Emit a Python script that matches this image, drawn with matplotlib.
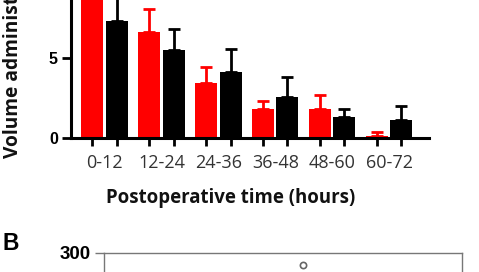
import numpy as np
import matplotlib
matplotlib.use('Agg')
import matplotlib.pyplot as plt

# data
periods = ['0-12', '12-24', '24-36', '36-48', '48-60', '60-72']
red_mean = [9.8, 6.6, 3.45, 1.8, 1.8, 0.12]
red_err = [1.8, 1.43, 0.98, 0.52, 0.88, 0.22]
black_mean = [7.3, 5.5, 4.12, 2.57, 1.27, 1.1]
black_err = [1.6, 1.32, 1.4, 1.25, 0.55, 0.87]

# panel B (only its top edge is visible)
b_x = [0.556]
b_y = [282]

W, H = 479, 272
fig = plt.figure(figsize=(W / 100, H / 100), dpi=100)

# Panel A
x0, x1 = 71, 429          # x spine in px
base = 137.7              # y=0 in px from top
ppu = 16.0                # px per unit
ymax = 15
ax = fig.add_axes([x0 / W, (H - base) / H, (x1 - x0) / W, ymax * ppu / H])

x = np.arange(len(periods))
off = 0.214
bw = 0.387
ekw = dict(capsize=4.3, capthick=2.0, elinewidth=2.0)
ax.bar(x - off, red_mean, bw, color='#ff0000',
       yerr=[np.zeros(len(x)), red_err], ecolor='#ff0000', error_kw=ekw)
ax.bar(x + off, black_mean, bw, color='black',
       yerr=[np.zeros(len(x)), black_err], ecolor='black', error_kw=ekw)

ax.set_xlim(-0.588, 5.70)
ax.set_ylim(0, ymax)
for s in ['top', 'right']:
    ax.spines[s].set_visible(False)
for s in ['left', 'bottom']:
    ax.spines[s].set_linewidth(2.2)

ax.set_yticks([0, 5])
ax.set_yticklabels(['0', '5'], fontfamily='Liberation Sans',
                   fontweight='bold', fontsize=11.5)
ax.tick_params(axis='y', length=6.5, width=2, pad=3)

ax.set_xticks(np.concatenate([x - off, x + off]))
ax.set_xticklabels([])
ax.tick_params(axis='x', which='major', length=6, width=2)
ax.set_xticks(x, periods, minor=True)
ax.tick_params(axis='x', which='minor', length=0, pad=11.5,
               labelsize=13, labelcolor='#333333')
for t in ax.get_xticklabels(minor=True):
    t.set_fontfamily('Open Sans')

fig.text(231 / W, 1 - 198 / H, 'Postoperative time (hours)',
         fontfamily='Open Sans', fontweight='bold', fontsize=13.4,
         ha='center', va='center', color='#111111')
fig.text(13 / W, 1 - 158 / H, 'Volume administered (mL/kg)',
         fontfamily='Open Sans', fontweight='bold', fontsize=13.8,
         rotation=90, ha='center', va='bottom', color='#111111')

# Panel B
fig.text(2 / W, 1 - 243 / H, 'B', fontfamily='Liberation Sans',
         fontweight='bold', fontsize=16.5, ha='left', va='center')
bx0, bx1, btop = 104, 462, 253
bh = 200
axb = fig.add_axes([bx0 / W, (H - btop - bh) / H, (bx1 - bx0) / W, bh / H])
axb.plot(b_x, b_y, 'o', ms=4.5, mfc='white', mec='#666666', mew=1.2)
axb.set_xlim(0, 1)
axb.set_ylim(0, 300)
for s in axb.spines.values():
    s.set_color('#777777')
    s.set_linewidth(1.0)
axb.set_xticks([])
axb.set_yticks([300])
axb.set_yticklabels(['300'], fontfamily='Liberation Sans',
                    fontweight='bold', fontsize=13.5)
axb.tick_params(axis='y', length=6.5, width=1.0, color='#777777', pad=3)

fig.savefig('out.png', dpi=100)
